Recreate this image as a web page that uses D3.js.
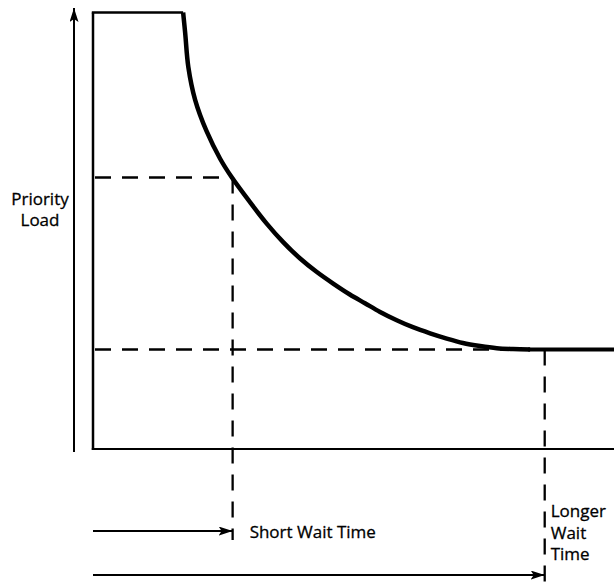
<!DOCTYPE html>
<html>
<head>
<meta charset="utf-8">
<script src="https://cdn.jsdelivr.net/npm/d3@7"></script>
<style>
  html, body { margin: 0; padding: 0; background: #fff; }
  svg { display: block; }
  text { font-family: "Open Sans", sans-serif; font-size: 17px; fill: #000; stroke: #000; stroke-width: 0.3px; }
</style>
</head>
<body>
<script>
// ---- data (abstract units: wait time on x, priority load on y) ----
const waitTime     = [1.73, 1.77, 1.83, 1.96, 2.18, 2.44, 2.66, 3.01, 3.33, 3.65, 3.97, 4.29, 4.61, 4.93, 5.22, 5.51, 5.83, 6.14, 6.47, 6.79, 7.10, 7.43, 7.75, 8.06, 8.39];
const priorityLoad = [10.0, 9.52, 8.75, 8.00, 7.28, 6.65, 6.23, 5.66, 5.17, 4.74, 4.37, 4.06, 3.79, 3.54, 3.34, 3.14, 2.95, 2.79, 2.65, 2.53, 2.43, 2.36, 2.31, 2.29, 2.28];
const maxLoad = 10;          // top plateau
const maxWait = 10;          // right edge of the chart
const shortWait = 2.68, highLoad = 6.22;
const longWait = 8.67,  lowLoad = 2.28;
const yLabel = ["Priority", "Load"];
const shortLabel = ["Short Wait Time"];
const longLabel = ["Longer", "Wait", "Time"];

const W = 614, H = 587;
const x = d3.scaleLinear().domain([0, maxWait]).range([93, 614]);
const y = d3.scaleLinear().domain([0, maxLoad]).range([449, 12.5]);

const svg = d3.select("body").append("svg").attr("width", W).attr("height", H);
const ink = "#000";

const defs = svg.append("defs");
defs.append("marker").attr("id", "ah")
  .attr("viewBox", "0 0 14 9").attr("refX", 14).attr("refY", 4.5)
  .attr("markerWidth", 14).attr("markerHeight", 9)
  .attr("markerUnits", "userSpaceOnUse").attr("orient", "auto")
  .append("path").attr("d", "M0,0 L14,4.5 L0,9 L3,4.5 Z").attr("fill", ink);

// frame: left edge, top plateau, bottom axis
svg.append("line").attr("x1", x(0)).attr("x2", x(0)).attr("y1", y(0) + 1).attr("y2", y(maxLoad))
  .attr("stroke", ink).attr("stroke-width", 2.5);
svg.append("line").attr("x1", x(0) - 1.2).attr("x2", x(waitTime[0])).attr("y1", y(maxLoad)).attr("y2", y(maxLoad))
  .attr("stroke", ink).attr("stroke-width", 2.5);
svg.append("line").attr("x1", x(0) - 1.2).attr("x2", x(maxWait)).attr("y1", y(0)).attr("y2", y(0))
  .attr("stroke", ink).attr("stroke-width", 2.2);

// dashed guides
const dash = "16,11";
const dw = 2.3;
svg.append("line").attr("x1", x(0) + 2).attr("x2", x(shortWait)).attr("y1", y(highLoad)).attr("y2", y(highLoad))
  .attr("stroke", ink).attr("stroke-width", dw).attr("stroke-dasharray", dash);
svg.append("line").attr("x1", x(shortWait)).attr("x2", x(shortWait)).attr("y1", y(highLoad)).attr("y2", 540)
  .attr("stroke", ink).attr("stroke-width", dw).attr("stroke-dasharray", dash);
svg.append("line").attr("x1", x(0) + 2).attr("x2", x(longWait)).attr("y1", y(lowLoad)).attr("y2", y(lowLoad))
  .attr("stroke", ink).attr("stroke-width", dw).attr("stroke-dasharray", dash);
svg.append("line").attr("x1", x(longWait)).attr("x2", x(longWait)).attr("y1", y(lowLoad)).attr("y2", H)
  .attr("stroke", ink).attr("stroke-width", dw).attr("stroke-dasharray", dash);

// the curve
const pts = waitTime.map((w, i) => [w, priorityLoad[i]]);
const line = d3.line().x(d => x(d[0])).y(d => y(d[1])).curve(d3.curveCatmullRom.alpha(0.5));
svg.append("path").datum(pts).attr("d", line)
  .attr("fill", "none").attr("stroke", ink).attr("stroke-width", 4.5).attr("stroke-linecap", "butt");
svg.append("line").attr("x1", x(waitTime[waitTime.length - 1]) - 2).attr("x2", x(maxWait))
  .attr("y1", y(lowLoad)).attr("y2", y(lowLoad))
  .attr("stroke", ink).attr("stroke-width", 4);

// y-direction arrow
svg.append("line").attr("x1", x(0) - 19).attr("x2", x(0) - 19).attr("y1", y(0) + 3).attr("y2", 8)
  .attr("stroke", ink).attr("stroke-width", 2).attr("marker-end", "url(#ah)");

// wait-time arrows
const shortY = 531, longY = 575;
svg.append("line").attr("x1", x(0)).attr("x2", x(shortWait)).attr("y1", shortY).attr("y2", shortY)
  .attr("stroke", ink).attr("stroke-width", 1.8).attr("marker-end", "url(#ah)");
svg.append("line").attr("x1", x(0)).attr("x2", x(longWait)).attr("y1", longY).attr("y2", longY)
  .attr("stroke", ink).attr("stroke-width", 1.8).attr("marker-end", "url(#ah)");

// labels
svg.append("text").attr("x", 40).attr("text-anchor", "middle")
  .selectAll("tspan").data(yLabel).join("tspan")
  .attr("x", 40).attr("y", (d, i) => 205 + i * 21).text(d => d);
svg.append("text").attr("x", x(shortWait) + 17).attr("y", 538).text(shortLabel[0]);
svg.append("text").selectAll("tspan").data(longLabel).join("tspan")
  .attr("x", x(longWait) + 6).attr("y", (d, i) => 517 + i * 21.5).text(d => d);
</script>
</body>
</html>
